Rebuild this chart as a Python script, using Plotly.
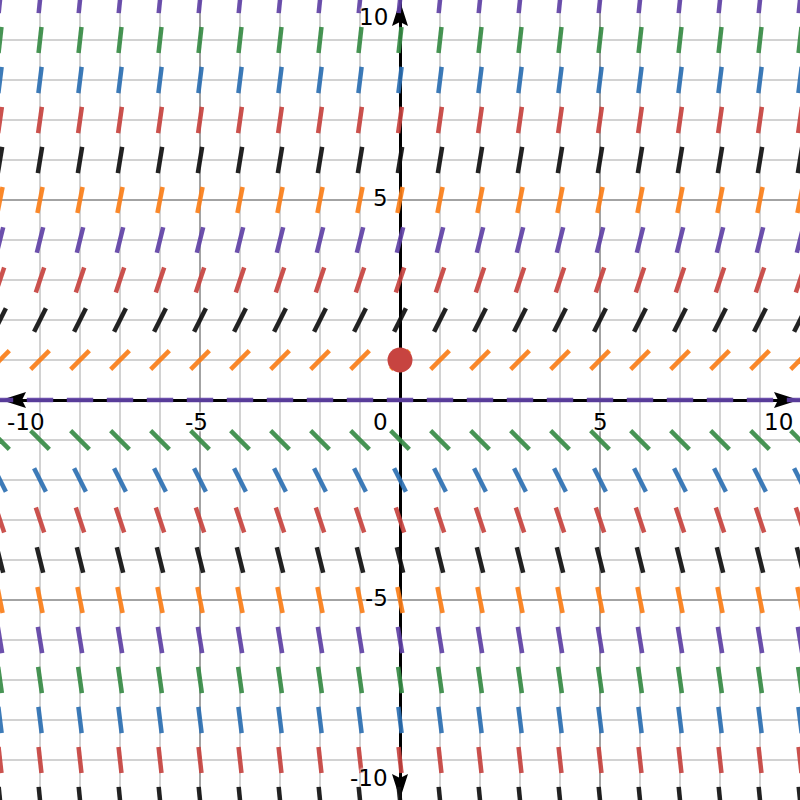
import plotly.graph_objects as go
import math

# ---- data ----
x_points = [-10, -9, -8, -7, -6, -5, -4, -3, -2, -1, 0, 1, 2, 3, 4, 5, 6, 7, 8, 9, 10]
y_rows = [10, 9, 8, 7, 6, 5, 4, 3, 2, 1, 0, -1, -2, -3, -4, -5, -6, -7, -8, -9, -10]
# slope dy/dx at each row (dy/dx = y)
row_slopes = [10, 9, 8, 7, 6, 5, 4, 3, 2, 1, 0, -1, -2, -3, -4, -5, -6, -7, -8, -9, -10]
row_colors = ["purple", "green", "blue", "red", "black", "orange", "purple", "red", "black", "orange",
              "purple", "green", "blue", "red", "black", "orange", "purple", "green", "blue", "red", "black"]
point_x = [0]
point_y = [1]
x_tick_vals = [-10, -5, 0, 5, 10]
y_tick_vals = [10, 5, -5, -10]

palette = {
    "red": "#c74440",
    "blue": "#2d70b3",
    "green": "#388c46",
    "purple": "#6042a6",
    "orange": "#fa7e19",
    "black": "#111111",
}

HALF = 0.33  # half length of each slope segment (data units, equal aspect)

fig = go.Figure()

for yv, m, cname in zip(y_rows, row_slopes, row_colors):
    n = math.hypot(1.0, m)
    dx, dy = HALF / n, HALF * m / n
    xs, ys = [], []
    for xv in x_points:
        xs += [xv - dx, xv + dx, None]
        ys += [yv - dy, yv + dy, None]
    fig.add_trace(go.Scatter(x=xs, y=ys, mode="lines",
                             line=dict(color=palette[cname], width=4.5),
                             opacity=0.92,
                             hoverinfo="skip", showlegend=False))

fig.add_trace(go.Scatter(x=point_x, y=point_y, mode="markers",
                         marker=dict(color="#c74440", size=25, line=dict(width=0)),
                         hoverinfo="skip", showlegend=False))

axis_common = dict(
    range=[-10, 10], showgrid=True, dtick=5, tick0=0,
    gridcolor="#a3a3a3", gridwidth=1.6,
    minor=dict(dtick=1, tick0=0, showgrid=True, gridcolor="#d2d2d2", gridwidth=1.6),
    zeroline=True, zerolinecolor="#000000", zerolinewidth=2.5,
    showticklabels=False, ticks="", showline=False, fixedrange=True,
)

fig.update_layout(
    width=800, height=800,
    margin=dict(l=0, r=0, t=0, b=0),
    plot_bgcolor="white", paper_bgcolor="white",
    xaxis=axis_common,
    yaxis=dict(axis_common, scaleanchor="x", scaleratio=1),
    showlegend=False,
)

# arrowheads at the axis ends (pixel-sized paths anchored to axis ends)
arrow_right = "M -1,0 L -26,8 L -22,0 L -26,-8 Z"
arrow_left = "M 1,0 L 26,8 L 22,0 L 26,-8 Z"
arrow_up = "M 0,-1 L 8,-26 L 0,-22 L -8,-26 Z"
arrow_down = "M 0,1 L 8,26 L 0,22 L -8,26 Z"
for path, xa, ya in [
    (arrow_right, 10, 0),
    (arrow_left, -10, 0),
    (arrow_up, 0, 10),
    (arrow_down, 0, -10),
]:
    fig.add_shape(type="path", path=path, xsizemode="pixel", ysizemode="pixel",
                  xanchor=xa, yanchor=ya, fillcolor="#000000",
                  line=dict(width=0), layer="below")

label_font = dict(family="DejaVu Sans", size=23, color="#000000",
                  shadow="0 0 3px white, 0 0 3px white, 0 0 2px white")

def fmt(v):
    return ("-" if v < 0 else "") + str(abs(v))

for v in x_tick_vals:
    if v == 0:
        fig.add_annotation(x=0, y=0, text="0", showarrow=False, xanchor="right",
                           yanchor="top", xshift=-10, yshift=-7, font=label_font)
    elif v == x_tick_vals[0]:
        fig.add_annotation(x=v, y=0, text=fmt(v), showarrow=False, xanchor="left",
                           yanchor="top", xshift=5, yshift=-7, font=label_font)
    elif v == x_tick_vals[-1]:
        fig.add_annotation(x=v, y=0, text=fmt(v), showarrow=False, xanchor="right",
                           yanchor="top", xshift=-5, yshift=-7, font=label_font)
    else:
        fig.add_annotation(x=v, y=0, text=fmt(v), showarrow=False, xanchor="center",
                           yanchor="top", xshift=(-4 if v < 0 else 0), yshift=-7,
                           font=label_font)

for v in y_tick_vals:
    if v == max(y_tick_vals):
        fig.add_annotation(x=0, y=v, text=fmt(v), showarrow=False, xanchor="right",
                           yanchor="top", xshift=-10, yshift=-2, font=label_font)
    elif v == min(y_tick_vals):
        fig.add_annotation(x=0, y=v, text=fmt(v), showarrow=False, xanchor="right",
                           yanchor="bottom", xshift=-10, yshift=7, font=label_font)
    else:
        fig.add_annotation(x=0, y=v, text=fmt(v), showarrow=False, xanchor="right",
                           yanchor="middle", xshift=-10, yshift=2, font=label_font)

fig.write_html("out.html", config={"displayModeBar": False},
               post_script="document.body.style.margin='0';document.body.style.overflow='hidden';")
